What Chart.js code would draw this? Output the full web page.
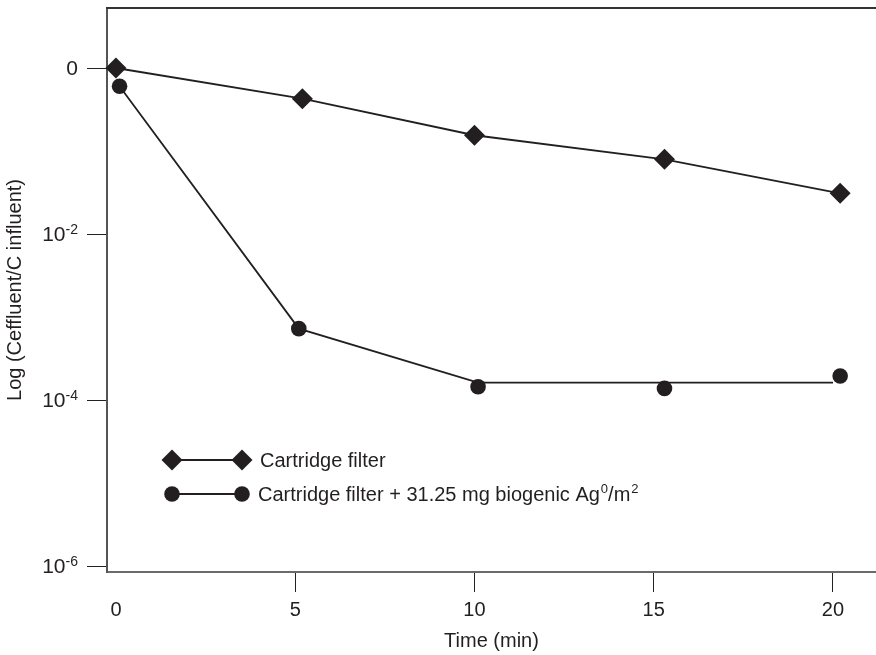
<!DOCTYPE html>
<html>
<head>
<meta charset="utf-8">
<title>Log (Ceffluent/C influent) vs time</title>
<script src="https://cdn.jsdelivr.net/npm/chart.js@4"></script>
<style>
  html, body { margin: 0; padding: 0; background: #fff; }
  #wrap { width: 876px; height: 655px; }
</style>
</head>
<body>
<div id="wrap"><canvas id="filter" width="876" height="655"></canvas></div>
<script>
// values (y is log10 of Ceffluent/Cinfluent)
const cartridgeTime = [0, 5.2, 10.0, 15.3, 20.2];
const cartridgeLog = [0, -0.37, -0.81, -1.10, -1.51];

const biogenicTime = [0.1, 5.1, 10.1, 15.3, 20.2];
const biogenicLog = [-0.22, -3.14, -3.84, -3.86, -3.71];

// the drawn trace of the Ag series does not run through every marker
const biogenicLineTime = [0.1, 5.1, 10.1, 20.0];
const biogenicLineLog = [-0.22, -3.14, -3.79, -3.79];

const xTicks = [0, 5, 10, 15, 20];
const yTicks = [0, -2, -4, -6];
const yTickBase = ['0', '10', '10', '10'];
const yTickExp = ['', '-2', '-4', '-6'];

const legendLabels = ['Cartridge filter', 'Cartridge filter + 31.25 mg biogenic Ag'];

const ink = '#231f20';
const fontFamily = '"Liberation Sans", Arial, Helvetica, sans-serif';
Chart.defaults.font.family = fontFamily;
Chart.defaults.color = ink;

const toPoints = (xs, ys) => xs.map((x, i) => ({ x: x, y: ys[i] }));

// no extra room for the end labels, the frame runs to the canvas edge
const noPadding = scale => {
  scale.paddingLeft = 0;
  scale.paddingRight = 0;
  scale.paddingTop = 0;
  scale.paddingBottom = 0;
};

function diamond(ctx, x, y, r) {
  ctx.beginPath();
  ctx.moveTo(x - r, y);
  ctx.lineTo(x, y - r);
  ctx.lineTo(x + r, y);
  ctx.lineTo(x, y + r);
  ctx.closePath();
  ctx.fill();
}

function dot(ctx, x, y, r) {
  ctx.beginPath();
  ctx.arc(x, y, r, 0, Math.PI * 2);
  ctx.fill();
}

// y tick labels with superscripts, top frame line and the inset legend
const extras = {
  id: 'extras',
  afterDraw(chart) {
    const ctx = chart.ctx;
    const area = chart.chartArea;
    const yScale = chart.scales.y;
    ctx.save();

    // top frame
    ctx.strokeStyle = '#333';
    ctx.lineWidth = 2;
    ctx.beginPath();
    ctx.moveTo(area.left - 1, area.top);
    ctx.lineTo(area.right, area.top);
    ctx.stroke();

    // y tick labels
    ctx.fillStyle = ink;
    ctx.textBaseline = 'alphabetic';
    const rightEdge = area.left - 29;
    yTicks.forEach((v, i) => {
      const y = yScale.getPixelForValue(v) + 6.5;
      let x = rightEdge;
      if (yTickExp[i]) {
        ctx.font = '14px ' + fontFamily;
        ctx.textAlign = 'left';
        const w = ctx.measureText(yTickExp[i]).width;
        x = rightEdge - w;
        ctx.fillText(yTickExp[i], x, y - 7);
      }
      ctx.font = '21px ' + fontFamily;
      ctx.textAlign = 'right';
      ctx.fillText(yTickBase[i], x, y);
    });

    // legend
    const lx1 = area.left + 65, lx2 = area.left + 135, tx = area.left + 153;
    const rows = [area.top + 452, area.top + 486];
    ctx.strokeStyle = ink;
    ctx.lineWidth = 1.8;
    rows.forEach(ry => {
      ctx.beginPath();
      ctx.moveTo(lx1, ry);
      ctx.lineTo(lx2, ry);
      ctx.stroke();
    });
    diamond(ctx, lx1, rows[0], 10.5);
    diamond(ctx, lx2, rows[0], 10.5);
    dot(ctx, lx1, rows[1], 7.8);
    dot(ctx, lx2, rows[1], 7.8);

    ctx.textAlign = 'left';
    ctx.font = '20px ' + fontFamily;
    ctx.fillText(legendLabels[0], tx, rows[0] + 7);
    let x = tx - 2;
    ctx.fillText(legendLabels[1], x, rows[1] + 7);
    x += ctx.measureText(legendLabels[1]).width;
    ctx.font = '13px ' + fontFamily;
    ctx.fillText('0', x + 1, rows[1] - 1.5);
    x += ctx.measureText('0').width + 1;
    ctx.font = '20px ' + fontFamily;
    ctx.fillText('/m', x, rows[1] + 7);
    x += ctx.measureText('/m').width;
    ctx.font = '13px ' + fontFamily;
    ctx.fillText('2', x + 1, rows[1] - 1.5);

    ctx.restore();
  }
};

const ctx = document.getElementById('filter').getContext('2d');

new Chart(ctx, {
  type: 'scatter',
  data: {
    datasets: [
      {
        label: legendLabels[0],
        data: toPoints(cartridgeTime, cartridgeLog),
        showLine: true,
        borderColor: ink,
        borderWidth: 1.8,
        backgroundColor: ink,
        pointStyle: 'rectRot',
        pointRadius: 10.5,
        pointBorderWidth: 0,
        pointBackgroundColor: ink,
        clip: false
      },
      {
        label: legendLabels[1] + ' line',
        data: toPoints(biogenicLineTime, biogenicLineLog),
        showLine: true,
        borderColor: ink,
        borderWidth: 1.8,
        pointRadius: 0,
        clip: false
      },
      {
        label: legendLabels[1],
        data: toPoints(biogenicTime, biogenicLog),
        showLine: false,
        pointStyle: 'circle',
        pointRadius: 7.8,
        pointBorderWidth: 0,
        pointBackgroundColor: ink,
        backgroundColor: ink,
        clip: false
      }
    ]
  },
  options: {
    responsive: false,
    animation: false,
    devicePixelRatio: 1,
    layout: {
      autoPadding: false,
      padding: { top: 8, left: 0, right: 0, bottom: 0 }
    },
    plugins: {
      legend: { display: false },
      tooltip: { enabled: false }
    },
    scales: {
      x: {
        type: 'linear',
        position: 'bottom',
        min: -0.25,
        max: 21.2,
        afterBuildTicks: scale => { scale.ticks = xTicks.map(v => ({ value: v })); },
        afterFit: scale => { scale.height = 83; noPadding(scale); },
        border: { color: '#6b6b6b', width: 2 },
        grid: {
          drawOnChartArea: false,
          drawTicks: true,
          tickLength: 20,
          tickWidth: 1,
          tickColor: c => (c.tick && c.tick.value === 0) ? 'rgba(0,0,0,0)' : '#222'
        },
        ticks: {
          color: ink,
          font: { size: 20 },
          padding: 6,
          maxRotation: 0,
          autoSkip: false
        },
        title: {
          display: true,
          text: 'Time (min)',
          color: ink,
          font: { size: 20 },
          padding: { top: 0, bottom: 2 }
        }
      },
      y: {
        type: 'linear',
        min: -6.072,
        max: 0.723,
        afterBuildTicks: scale => { scale.ticks = yTicks.map(v => ({ value: v })); },
        afterFit: scale => { scale.width = 107; noPadding(scale); },
        border: { color: '#555', width: 2 },
        grid: {
          drawOnChartArea: false,
          drawTicks: true,
          tickLength: 20,
          tickWidth: 1,
          tickColor: '#222'
        },
        ticks: {
          callback: () => '',
          font: { size: 20 }
        },
        title: {
          display: true,
          text: 'Log (Ceffluent/C influent)',
          color: ink,
          font: { size: 20 },
          padding: { top: 3, bottom: 0 }
        }
      }
    }
  },
  plugins: [extras]
});
</script>
</body>
</html>
